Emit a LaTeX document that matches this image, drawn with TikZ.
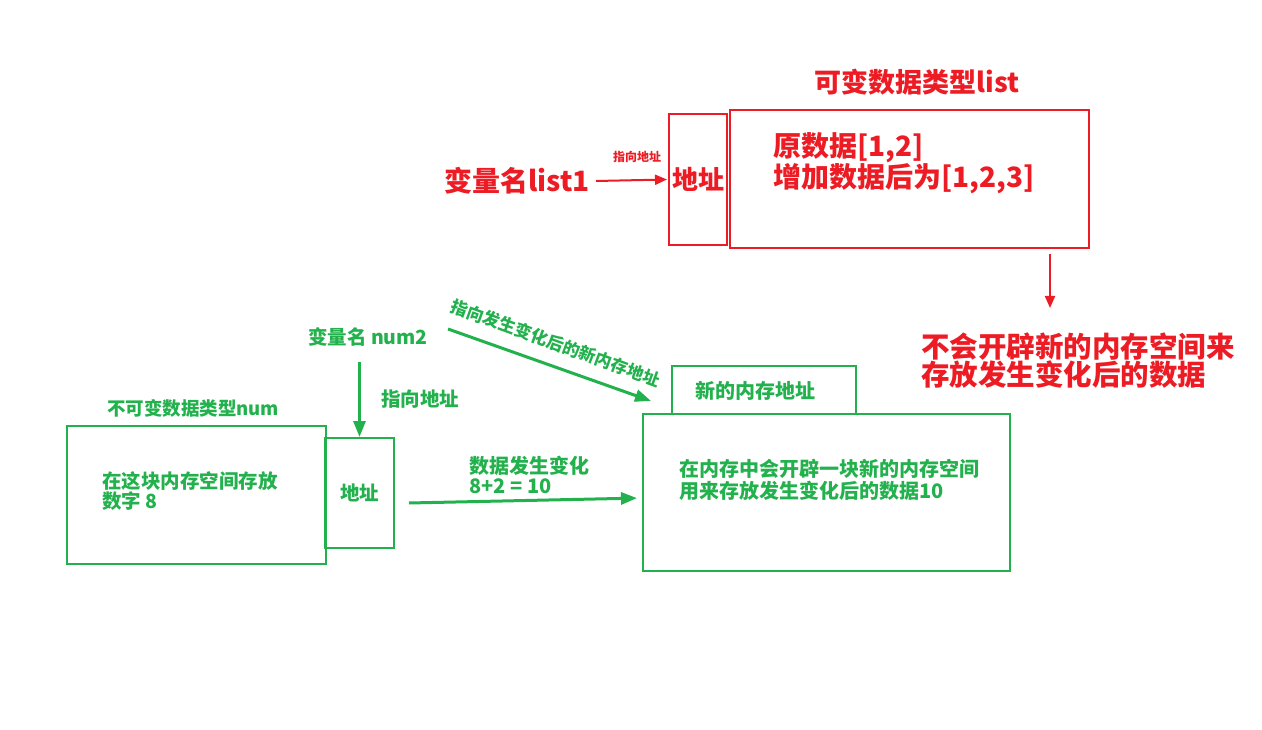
\documentclass[tikz,border=0pt]{standalone}
\usepackage{fontspec}
\setmainfont{Noto Sans CJK SC}
\usetikzlibrary{positioning, arrows.meta}
\definecolor{pred}{RGB}{237,28,36}
\definecolor{pgreen}{RGB}{34,177,76}

\begin{document}
\begin{tikzpicture}[x=1pt, y=-1pt,
        redbox/.style={rectangle, draw=pred, line width=2pt, inner sep=0pt, text=pred,
          font=\bfseries\fontsize{26}{28}\selectfont},
        greenbox/.style={rectangle, draw=pgreen, line width=2pt, inner sep=0pt, text=pgreen,
          font=\bfseries\fontsize{19.5}{20}\selectfont},
        redtxt/.style={text=pred, align=left, inner sep=0pt, font=\bfseries\fontsize{28}{28}\selectfont},
        greentxt/.style={text=pgreen, align=left, inner sep=0pt, font=\bfseries\fontsize{19.5}{20}\selectfont},
        smalltxt/.style={greentxt, font=\bfseries\fontsize{20}{22}\selectfont},
        redarrow/.style={-{Triangle[length=12pt,width=10pt]}, line width=2pt, draw=pred},
        greenarrow/.style={-{Triangle[length=16pt,width=12pt]}, line width=3pt, draw=pgreen}
      ]
        \useasboundingbox (0,0) rectangle (1262,730);

        \node[redtxt, font=\bfseries\fontsize{27}{28}\selectfont] (title1) at (917,82) {可变数据类型list};
        \node[redbox, minimum width=58pt, minimum height=131pt] (addr1) at (698,179.5) {地址};
        \node[redbox, minimum width=359pt, minimum height=138pt] (data1) at (909.5,179) {};
        \node[redtxt, anchor=west] (data1txt) at (773,163) {原数据[1,2]\\增加数据后为[1,2,3]};
        \node[redtxt, anchor=east] (var1) at (590,181) {变量名list1};
        \node[text=pred, inner sep=0pt, font=\bfseries\fontsize{12}{12}\selectfont] (ptr1) at (637,157) {指向地址};
        \node[redtxt, anchor=west, font=\bfseries\fontsize{28.5}{28}\selectfont] (note1) at (921,361) {不会开辟新的内存空间来\\存放发生变化后的数据};
        \coordinate (down1) at (1050,308);

        \draw[redarrow] ([xshift=6pt]var1.east) -- ([xshift=-1pt]addr1.west);
        \draw[redarrow, shorten <=5pt] (data1.south -| down1) -- (down1);

        \node[greentxt] (var2) at (368,337) {变量名 num2};
        \node[greentxt, anchor=west] (ptr2) at (381,399) {指向地址};
        \node[greentxt, font=\bfseries\fontsize{18.5}{20}\selectfont] (title2) at (193,408) {不可变数据类型num};
        \node[greenbox, minimum width=259pt, minimum height=138pt] (box2) at (196.5,495) {};
        \node[greentxt, anchor=west] (box2txt) at (102,491) {在这块内存空间存放\\数字 8};
        \node[greenbox, minimum width=69pt, minimum height=110pt] (addr2) at (359.5,493) {地址};
        \node[greenbox, minimum width=184pt, minimum height=48pt] (new3) at (764,390) {};
        \node[smalltxt, anchor=west] (new3txt) at (695,391) {新的内存地址};
        \node[greenbox, minimum width=367pt, minimum height=157pt] (box3) at (826.5,492.5) {};
        \node[smalltxt, anchor=west] (box3txt) at (679,480) {在内存中会开辟一块新的内存空间\\用来存放发生变化后的数据10};
        \node[smalltxt, anchor=west, font=\bfseries\fontsize{20}{20}\selectfont] (chg) at (469,475) {数据发生变化\\8+2 = 10};
        \node[smalltxt, rotate=-20, font=\bfseries\fontsize{17}{18}\selectfont] (ptr3) at (556,343) {指向发生变化后的新内存地址};

        \draw[greenarrow, shorten <=15pt] (addr2.north |- var2.south) -- (addr2.north);
        \draw[greenarrow, shorten >=5pt] ([shift={(14,10)}]addr2.east) -- ([yshift=-5.5pt]box3.west);
        \draw[greenarrow] ([shift={(20,-8)}]var2.east) -- ([shift={(9,-12)}]box3.north west);
      \end{tikzpicture}
\end{document}
